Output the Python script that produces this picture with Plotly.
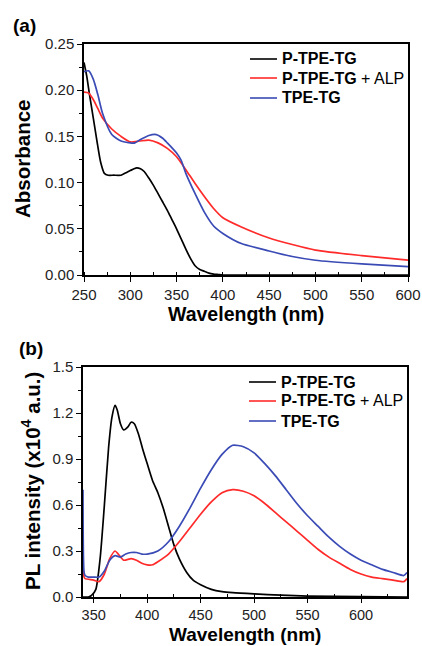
import plotly.graph_objects as go

# ---- Panel (a): absorbance ----
abs_black_x = [250, 253, 256, 260, 264, 268, 272, 276, 282, 290, 296, 300, 304, 307, 311, 315, 320, 325, 330, 335, 340, 345, 350, 355, 360, 365, 370, 375, 380, 385, 390, 395, 400, 450, 500, 550, 600]
abs_black_y = [0.230, 0.215, 0.195, 0.170, 0.145, 0.122, 0.110, 0.108, 0.108, 0.108, 0.111, 0.113, 0.115, 0.116, 0.115, 0.112, 0.105, 0.097, 0.088, 0.079, 0.070, 0.060, 0.050, 0.039, 0.028, 0.018, 0.010, 0.006, 0.004, 0.002, 0.001, 0.0005, 0.0, 0.0, 0.0, 0.0, 0.0]

abs_red_x = [250, 255, 260, 265, 270, 280, 290, 300, 310, 320, 330, 340, 350, 360, 370, 380, 390, 400, 420, 450, 475, 500, 550, 600]
abs_red_y = [0.198, 0.197, 0.190, 0.180, 0.170, 0.158, 0.150, 0.144, 0.145, 0.146, 0.143, 0.137, 0.128, 0.114, 0.099, 0.085, 0.072, 0.062, 0.052, 0.040, 0.033, 0.027, 0.021, 0.016]

abs_blue_x = [250, 255, 260, 265, 270, 280, 290, 300, 305, 310, 320, 328, 335, 340, 350, 355, 360, 370, 380, 390, 400, 420, 450, 475, 500, 550, 600]
abs_blue_y = [0.220, 0.221, 0.212, 0.195, 0.175, 0.152, 0.145, 0.143, 0.143, 0.146, 0.151, 0.152, 0.148, 0.143, 0.132, 0.124, 0.110, 0.088, 0.068, 0.053, 0.045, 0.034, 0.026, 0.020, 0.016, 0.012, 0.009]

# ---- Panel (b): PL intensity ----
pl_black_x = [340, 345, 348, 352, 356, 360, 364, 367, 370, 372, 375, 378, 382, 385, 388, 392, 396, 400, 405, 410, 415, 420, 425, 430, 437, 443, 450, 460, 470, 480, 500, 525, 550, 600, 643]
pl_black_y = [0.0, 0.0, 0.01, 0.05, 0.25, 0.60, 0.98, 1.17, 1.25, 1.22, 1.13, 1.09, 1.11, 1.14, 1.13, 1.06, 0.96, 0.87, 0.76, 0.68, 0.58, 0.46, 0.34, 0.25, 0.16, 0.11, 0.08, 0.05, 0.035, 0.028, 0.02, 0.012, 0.006, 0.002, 0.0]

pl_red_x = [340, 341, 342, 350, 355, 360, 365, 370, 373, 378, 385, 390, 395, 400, 405, 410, 420, 430, 440, 450, 460, 470, 480, 490, 500, 510, 520, 530, 540, 550, 560, 570, 580, 590, 600, 610, 620, 630, 640, 643]
pl_red_y = [0.20, 0.13, 0.12, 0.11, 0.10, 0.15, 0.25, 0.30, 0.28, 0.24, 0.25, 0.24, 0.22, 0.21, 0.21, 0.23, 0.28, 0.36, 0.45, 0.54, 0.62, 0.68, 0.70, 0.69, 0.66, 0.61, 0.55, 0.49, 0.43, 0.37, 0.31, 0.26, 0.22, 0.18, 0.15, 0.13, 0.12, 0.11, 0.10, 0.12]

pl_blue_x = [340, 341, 342, 345, 350, 355, 360, 365, 370, 375, 380, 385, 390, 395, 400, 410, 420, 430, 440, 450, 460, 470, 480, 490, 500, 510, 520, 530, 540, 550, 560, 570, 580, 590, 600, 610, 620, 630, 640, 643]
pl_blue_y = [0.70, 0.16, 0.14, 0.13, 0.13, 0.13, 0.17, 0.24, 0.27, 0.26, 0.28, 0.29, 0.29, 0.28, 0.28, 0.30, 0.36, 0.46, 0.58, 0.71, 0.83, 0.93, 0.99, 0.98, 0.94, 0.87, 0.79, 0.70, 0.61, 0.53, 0.46, 0.39, 0.33, 0.28, 0.24, 0.21, 0.18, 0.16, 0.14, 0.16]

series_names = ["<b>P-TPE-TG</b>", "<b>P-TPE-TG</b> + ALP", "<b>TPE-TG</b>"]
colors = ["#000000", "#ff2a2a", "#3a4bb5"]

FONT = "Arial, Liberation Sans, sans-serif"
W, H = 422, 646

fig = go.Figure()

def add(x, y, i, xa, ya):
    fig.add_trace(go.Scatter(
        x=x, y=y, mode="lines", name=series_names[i],
        line=dict(color=colors[i], width=1.7, shape="spline", smoothing=0.6),
        xaxis=xa, yaxis=ya, showlegend=False))

add(abs_black_x, abs_black_y, 0, "x", "y")
add(abs_red_x, abs_red_y, 1, "x", "y")
add(abs_blue_x, abs_blue_y, 2, "x", "y")
add(pl_black_x, pl_black_y, 0, "x2", "y2")
add(pl_red_x, pl_red_y, 1, "x2", "y2")
add(pl_blue_x, pl_blue_y, 2, "x2", "y2")

def px_x(p):
    return p / W

def px_y(p):
    return 1 - p / H

axis_common = dict(showline=True, linecolor="black", linewidth=1.5, mirror=True,
                   showgrid=False, zeroline=False, ticks="outside",
                   tickwidth=1.2, tickcolor="black", automargin=False)

tick15 = dict(family=FONT, size=15, color="#222222")
tick14 = dict(family=FONT, size=14.5, color="#222222")

fig.update_layout(
    width=W, height=H, margin=dict(l=0, r=0, t=0, b=0, autoexpand=False),
    plot_bgcolor="white", paper_bgcolor="white",
    showlegend=False,
    xaxis=dict(domain=[px_x(84), px_x(408)], range=[250, 600], tickvals=[250, 300, 350, 400, 450, 500, 550, 600],
               minor=dict(dtick=25, tick0=250, ticks="inside", ticklen=3, tickcolor="black"),
               anchor="y", ticklen=5, tickfont=tick15, **axis_common),
    yaxis=dict(domain=[px_y(275), px_y(44)], range=[0, 0.25], tickvals=[0, 0.05, 0.10, 0.15, 0.20, 0.25],
               tickformat=".2f",
               minor=dict(dtick=0.025, tick0=0, ticks="outside", ticklen=3, tickcolor="black"),
               anchor="x", ticklen=5, tickfont=tick15, **axis_common),
    xaxis2=dict(domain=[px_x(83), px_x(407)], range=[340, 643], tickvals=[350, 400, 450, 500, 550, 600],
                minor=dict(dtick=25, tick0=350, ticks="inside", ticklen=3, tickcolor="black"),
                anchor="y2", ticklen=4, tickfont=tick14, **axis_common),
    yaxis2=dict(domain=[px_y(597), px_y(367)], range=[0, 1.5], tickvals=[0, 0.3, 0.6, 0.9, 1.2, 1.5],
                tickformat=".1f",
                minor=dict(dtick=0.15, tick0=0, ticks="outside", ticklen=3, tickcolor="black"),
                anchor="x2", ticklen=5, tickfont=tick15, **axis_common),
)

ann = []
panel_font = dict(family=FONT, size=19, color="black")
xtitle_font = dict(family=FONT, size=19.5, color="black")
ytitle_font = dict(family=FONT, size=20.5, color="black")
# panel labels
ann.append(dict(text="<b>(a)</b>", x=px_x(11), y=px_y(25), xref="paper", yref="paper",
                xanchor="left", yanchor="middle", showarrow=False, font=panel_font))
ann.append(dict(text="<b>(b)</b>", x=px_x(17), y=px_y(348), xref="paper", yref="paper",
                xanchor="left", yanchor="middle", showarrow=False, font=panel_font))
# axis titles
ann.append(dict(text="<b>Wavelength (nm)</b>", x=px_x(246), y=px_y(314), xref="paper", yref="paper",
                xanchor="center", yanchor="middle", showarrow=False, font=xtitle_font))
ann.append(dict(text="<b>Absorbance</b>", x=px_x(23), y=px_y(159), xref="paper", yref="paper",
                xanchor="center", yanchor="middle", showarrow=False, textangle=-90, font=ytitle_font))
ann.append(dict(text="<b>Wavelength (nm)</b>", x=px_x(245), y=0, xref="paper", yref="paper",
                xanchor="center", yanchor="bottom", borderpad=0, showarrow=False,
                font=dict(family=FONT, size=19, color="black")))
ann.append(dict(text="<b>PL intensity (x10<sup>4</sup> a.u.)</b>", x=px_x(31), y=px_y(481), xref="paper", yref="paper",
                xanchor="center", yanchor="middle", showarrow=False, textangle=-90, font=ytitle_font))

# legends (drawn as shapes + text in paper coordinates)
shapes = []
legend_font = dict(family=FONT, size=16, color="black")
for rows, x0 in (((59, 78, 98), 250), ((382, 401, 421), 249)):
    for i, ry in enumerate(rows):
        shapes.append(dict(type="line", xref="paper", yref="paper",
                           x0=px_x(x0), x1=px_x(x0 + 27), y0=px_y(ry), y1=px_y(ry),
                           line=dict(color=colors[i], width=1.6)))
        ann.append(dict(text=series_names[i], x=px_x(x0 + 30), y=px_y(ry), xref="paper", yref="paper",
                        xanchor="left", yanchor="middle", showarrow=False, font=legend_font))

fig.update_layout(annotations=ann, shapes=shapes)
fig.write_html("out.html", config={"displayModeBar": False},
               post_script="document.body.style.margin='0';document.body.style.overflow='hidden';")
